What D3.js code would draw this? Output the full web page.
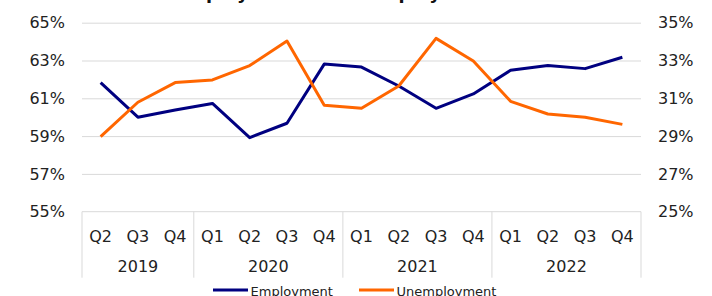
<!DOCTYPE html>
<html>
<head>
<meta charset="utf-8">
<script src="https://cdn.jsdelivr.net/npm/d3@7"></script>
<style>
  html, body { margin: 0; padding: 0; background: #fff; }
  svg { display: block; font-family: "DejaVu Sans", Verdana, sans-serif; }
</style>
</head>
<body>
<svg id="chart" width="712" height="296"></svg>
<script>
const quarters = ["Q2","Q3","Q4","Q1","Q2","Q3","Q4","Q1","Q2","Q3","Q4","Q1","Q2","Q3","Q4"];
const yearOf   = ["2019","2019","2019","2020","2020","2020","2020","2021","2021","2021","2021","2022","2022","2022","2022"];
const employment   = [61.83, 60.0, 60.38, 60.73, 58.92, 59.68, 62.81, 62.65, 61.65, 60.47, 61.23, 62.48, 62.73, 62.57, 63.17];
const unemployment = [28.97, 30.79, 31.83, 31.97, 32.73, 34.03, 30.63, 30.47, 31.65, 34.17, 32.97, 30.84, 30.17, 30.0, 29.62];
const leftTicks  = [55, 57, 59, 61, 63, 65];
const rightTicks = [25, 27, 29, 31, 33, 35];
const seriesNames = ["Employment", "Unemployment"];
const seriesColors = ["#000080", "#FF6600"];
const titleText = "Employment vs. Unemployment Rate";

const svg = d3.select("#chart");
const m = { left: 82, right: 641, top: 22.7, bottom: 211.7 };
const keys = quarters.map((q, i) => yearOf[i] + " " + q);

const x = d3.scaleBand().domain(keys).range([m.left, m.right]).padding(0);
const yL = d3.scaleLinear().domain([55, 65]).range([m.bottom, m.top]);
const yR = d3.scaleLinear().domain([25, 35]).range([m.bottom, m.top]);

// title (mostly cropped above view)
svg.append("text").attr("x", 360).attr("y", -1.2)
  .attr("text-anchor", "middle").attr("font-weight", "bold")
  .attr("font-size", 17.7).attr("fill", "#111").text(titleText);

// gridlines + left axis
const gL = svg.append("g").attr("transform", `translate(${m.left},0)`)
  .call(d3.axisLeft(yL).tickValues(leftTicks).tickSize(-(m.right - m.left))
    .tickPadding(17).tickFormat(d => d + "%"));
gL.select(".domain").remove();
gL.selectAll(".tick line").attr("stroke", "#d9d9d9").attr("stroke-width", 1)
  .attr("opacity", d => d === 55 ? 0 : 1);
gL.selectAll(".tick text").attr("font-size", 16).attr("fill", "#222")
  .attr("font-family", "DejaVu Sans, Verdana, sans-serif");

// right axis
const gR = svg.append("g").attr("transform", `translate(${m.right},0)`)
  .call(d3.axisRight(yR).tickValues(rightTicks).tickSize(0)
    .tickPadding(17).tickFormat(d => d + "%"));
gR.select(".domain").remove();
gR.selectAll(".tick text").attr("font-size", 16).attr("fill", "#222")
  .attr("font-family", "DejaVu Sans, Verdana, sans-serif");

// multi-level category axis box
const boxBottom = 277.7;
const axisG = svg.append("g");
axisG.append("line").attr("x1", m.left).attr("x2", m.right)
  .attr("y1", m.bottom).attr("y2", m.bottom).attr("stroke", "#d9d9d9");
// group boundaries
const yearsUnique = Array.from(new Set(yearOf));
const groups = yearsUnique.map(yr => {
  const ks = keys.filter((k, i) => yearOf[i] === yr);
  return { yr, x0: x(ks[0]), x1: x(ks[ks.length - 1]) + x.bandwidth() };
});
const bounds = [m.left].concat(groups.map(g => g.x1));
axisG.selectAll("line.div").data(bounds).enter().append("line")
  .attr("class", "div")
  .attr("x1", d => d).attr("x2", d => d)
  .attr("y1", m.bottom).attr("y2", boxBottom)
  .attr("stroke", "#d9d9d9");
axisG.selectAll("text.q").data(keys).enter().append("text")
  .attr("class", "q")
  .attr("x", d => x(d) + x.bandwidth() / 2).attr("y", 241.7)
  .attr("text-anchor", "middle").attr("font-size", 16).attr("fill", "#222")
  .text((d, i) => quarters[i]);
axisG.selectAll("text.yr").data(groups).enter().append("text")
  .attr("class", "yr")
  .attr("x", d => (d.x0 + d.x1) / 2).attr("y", 271.7)
  .attr("text-anchor", "middle").attr("font-size", 16).attr("fill", "#222")
  .text(d => d.yr);

// lines
const lineL = d3.line().x((d, i) => x(keys[i]) + x.bandwidth() / 2).y(d => yL(d));
const lineR = d3.line().x((d, i) => x(keys[i]) + x.bandwidth() / 2).y(d => yR(d));
svg.append("path").datum(employment).attr("d", lineL)
  .attr("fill", "none").attr("stroke", seriesColors[0]).attr("stroke-width", 3)
  .attr("stroke-linejoin", "round");
svg.append("path").datum(unemployment).attr("d", lineR)
  .attr("fill", "none").attr("stroke", seriesColors[1]).attr("stroke-width", 3)
  .attr("stroke-linejoin", "round");

// legend
const legendX = [213, 359];
const leg = svg.append("g");
seriesNames.forEach((name, i) => {
  leg.append("line").attr("x1", legendX[i]).attr("x2", legendX[i] + 35)
    .attr("y1", 290).attr("y2", 290)
    .attr("stroke", seriesColors[i]).attr("stroke-width", 3);
  leg.append("text").attr("x", legendX[i] + 37.5).attr("y", 295.5)
    .attr("font-size", 13).attr("fill", "#222").text(name);
});
</script>
</body>
</html>
